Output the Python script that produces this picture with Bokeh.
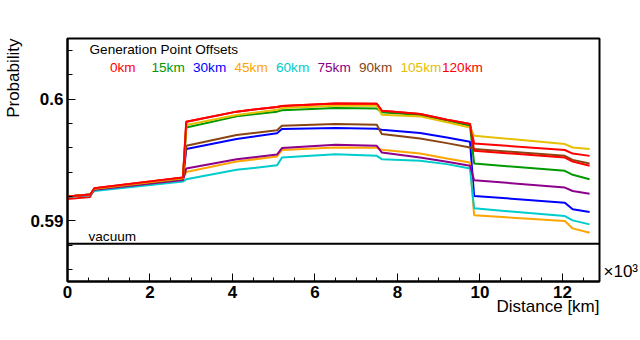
from bokeh.plotting import figure
from bokeh.models import (Range1d, SingleIntervalTicker, CustomJSTickFormatter, Span, Label,
                          Title, LinearAxis, FixedTicker)
from bokeh.embed import file_html
from bokeh.resources import INLINE

# ---------------- data ----------------
distance_km = [0, 550, 650, 2800, 2880, 4100, 5080, 5200, 6500, 7500, 7620,
               8550, 9200, 9760, 9860, 12060, 12250, 12660]

offset_labels = ["0km", "15km", "30km", "45km", "60km", "75km", "90km", "105km", "120km"]

prob_0km = [0.59180, 0.59196, 0.59268, 0.59355, 0.59815, 0.59898, 0.59937, 0.59945, 0.59966,
            0.59963, 0.59906, 0.59879, 0.59832, 0.59796, 0.59636, 0.59582, 0.59553, 0.59534]
prob_15km = [0.59200, 0.59216, 0.59262, 0.59348, 0.59768, 0.59859, 0.59898, 0.59910, 0.59928,
             0.59923, 0.59894, 0.59871, 0.59824, 0.59782, 0.59471, 0.59411, 0.59378, 0.59342]
prob_30km = [0.59200, 0.59216, 0.59260, 0.59345, 0.59590, 0.59672, 0.59720, 0.59755, 0.59763,
             0.59757, 0.59749, 0.59722, 0.59686, 0.59650, 0.59204, 0.59149, 0.59094, 0.59072]
prob_45km = [0.59198, 0.59214, 0.59255, 0.59340, 0.59402, 0.59487, 0.59529, 0.59582, 0.59603,
             0.59600, 0.59584, 0.59553, 0.59512, 0.59479, 0.59045, 0.58998, 0.58937, 0.58901]
prob_60km = [0.59196, 0.59210, 0.59245, 0.59322, 0.59342, 0.59419, 0.59456, 0.59520, 0.59548,
             0.59534, 0.59507, 0.59493, 0.59466, 0.59430, 0.59102, 0.59039, 0.59003, 0.58970]
prob_75km = [0.59198, 0.59214, 0.59255, 0.59336, 0.59430, 0.59507, 0.59545, 0.59598, 0.59625,
             0.59617, 0.59562, 0.59520, 0.59485, 0.59452, 0.59334, 0.59273, 0.59245, 0.59223]
prob_90km = [0.59200, 0.59216, 0.59262, 0.59346, 0.59617, 0.59705, 0.59745, 0.59782, 0.59796,
             0.59790, 0.59714, 0.59677, 0.59639, 0.59603, 0.59590, 0.59534, 0.59501, 0.59471]
prob_105km = [0.59200, 0.59216, 0.59264, 0.59350, 0.59788, 0.59871, 0.59914, 0.59927, 0.59947,
              0.59946, 0.59873, 0.59859, 0.59810, 0.59768, 0.59700, 0.59631, 0.59603, 0.59590]
prob_120km = [0.59200, 0.59216, 0.59268, 0.59355, 0.59815, 0.59898, 0.59937, 0.59945, 0.59966,
              0.59963, 0.59906, 0.59879, 0.59832, 0.59796, 0.59576, 0.59520, 0.59487, 0.59452]

vacuum_probability = 0.5881

# ---------------- style ----------------
colors = ["#ff0000", "#009900", "#0000ff", "#ffa500", "#00cccc",
          "#8c008c", "#8b4513", "#e6c000", "#ff0000"]
series = [prob_0km, prob_15km, prob_30km, prob_45km, prob_60km,
          prob_75km, prob_90km, prob_105km, prob_120km]

FONT = "Liberation Sans"

p = figure(width=640, height=340, output_backend="svg", toolbar_location=None,
           x_range=Range1d(0, 12900), y_range=Range1d(0.585, 0.605),
           min_border_left=67, min_border_right=40, min_border_top=38, min_border_bottom=59)
p.grid.visible = False
p.background_fill_color = "white"
p.border_fill_color = "white"
p.outline_line_color = "black"
p.outline_line_width = 2
p.outline_line_alpha = 1.0

# x axis
p.xaxis.ticker = SingleIntervalTicker(interval=2000, num_minor_ticks=4)
p.xaxis.formatter = CustomJSTickFormatter(code="return (tick/1000).toFixed(0);")
# y axis
p.yaxis.ticker = SingleIntervalTicker(interval=0.01, num_minor_ticks=5)
p.yaxis.formatter = CustomJSTickFormatter(code="return String(Math.round(tick*1000)/1000);")

for ax in (p.xaxis[0], p.yaxis[0]):
    ax.axis_line_width = 2
    ax.axis_line_color = "black"
    ax.major_tick_in = 8
    ax.major_tick_out = 0
    ax.minor_tick_in = 4
    ax.minor_tick_out = 0
    ax.major_tick_line_width = 1
    ax.minor_tick_line_width = 1
    ax.major_tick_line_color = "black"
    ax.minor_tick_line_color = "black"
    ax.major_label_text_font = FONT
    ax.major_label_text_font_style = "bold"
    ax.major_label_text_font_size = "17px"
    ax.major_label_text_color = "black"
    ax.major_label_standoff = 4
p.yaxis.minor_tick_in = 5

# exponent marker on the right, near the x axis
exp_axis = LinearAxis(ticker=FixedTicker(ticks=[0.5858]),
                      formatter=CustomJSTickFormatter(code="return '\u00d710\u00b3';"),
                      axis_line_color=None, major_tick_line_color=None,
                      minor_tick_line_color=None, major_label_standoff=-2,
                      major_label_text_font=FONT, major_label_text_font_size="17px",
                      major_label_text_color="black")
p.add_layout(exp_axis, "right")

# axis titles (ROOT style: at the end of each axis)
p.add_layout(Title(text="Probability", align="right", vertical_align="top", text_font=FONT,
                   text_font_size="17px", text_font_style="normal",
                   text_color="black", standoff=5), "left")
p.add_layout(Title(text="Distance [km]", align="right", text_font=FONT,
                   text_font_size="17px", text_font_style="normal",
                   text_color="black", standoff=-11), "below")

for vals, c in zip(series, colors):
    p.line(distance_km, vals, line_color=c, line_width=2)

p.add_layout(Span(location=vacuum_probability, dimension="width",
                  line_color="black", line_width=2))

def lab(text, x, y, color="black"):
    p.add_layout(Label(x=x, y=y, x_units="screen", y_units="screen", text=text,
                       text_font=FONT, text_font_size="13.6px", text_color=color,
                       text_align="left", text_baseline="alphabetic"))

lab("Generation Point Offsets", 22, 232)
for i, (t, c) in enumerate(zip(offset_labels, colors)):
    lab(t, 42.5 + 41.5 * i, 214.5, color=c)
lab("vacuum", 21, 45)

open("out.html", "w").write(file_html(p, INLINE))
